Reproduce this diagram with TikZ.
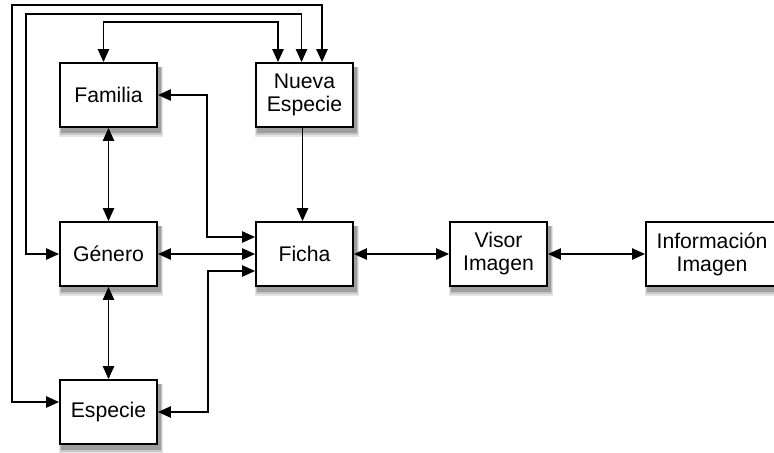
\documentclass[tikz,border=0pt]{standalone}
\usepackage{fontspec}
\setmainfont{Liberation Sans}
\usepackage{tikz}
\usetikzlibrary{calc,arrows.meta,backgrounds}

\begin{document}
\begin{tikzpicture}[x=0.5pt, y=-0.5pt,
    box/.style={draw=black, line width=0.9pt, fill=white, align=center,
      minimum width=48.5pt, minimum height=32pt, inner sep=1pt,
      font=\fontsize{10.6}{11.5}\selectfont},
    link/.style={line width=0.9pt, {Triangle[length=6.5pt,width=5.6pt]}-{Triangle[length=6.5pt,width=5.6pt]}},
    onelink/.style={line width=0.9pt, -{Triangle[length=6.5pt,width=5.6pt]}}
  ]
\useasboundingbox (0,0) rectangle (774,452);
% boxes
\node[box] (fam) at (108.5,95) {Familia};
\node[box] (nue) at (304.5,95) {Nueva\\Especie};
\node[box] (gen) at (108.5,254) {Género};
\node[box] (fic) at (304.5,254) {Ficha};
\node[box] (esp) at (108.5,412) {Especie};
\node[box] (vis) at (498.5,254) {Visor\\Imagen};
\node[box, minimum width=66pt] (inf) at (712,254) {Información\\Imagen};
% soft shadows
\begin{scope}[on background layer]
\foreach \n in {fam,nue,gen,fic,esp,vis,inf}{
    \fill[black!10] ($(\n.south west)+(0,9)$) rectangle ($(\n.north east)+(5,5)$);
    \fill[black!22] ($(\n.south west)+(1,7)$) rectangle ($(\n.north east)+(4,5)$);
    \fill[black!38] ($(\n.south west)+(2,5)$) rectangle ($(\n.north east)+(3,5)$);
}
\end{scope}
% straight links
\draw[link] (fam) -- (gen);
\draw[link] (gen) -- (esp);
\draw[link] (gen) -- (fic);
\draw[link] (fic) -- (vis);
\draw[link] (vis) -- (inf);
\draw[onelink] ([xshift=-1pt]nue.south) -- ([xshift=-1pt]fic.north);
% links to Ficha
\draw[link] (fam.east) -- ++(49,0) |- ($(fic.west)+(0,-17)$);
\draw[link] (esp.east) -- ++(50,0) |- ($(fic.west)+(0,17)$);
% links to Nueva Especie
\draw[link] ($(fam.north)+(-5,0)$) -- ++(0,-40) -| ($(nue.north)+(-26.5,0)$);
\draw[link] (gen.west) -- ++(-33,0) |- ($(nue.north)+(-3,-48)$) -- ($(nue.north)+(-3,0)$);
\draw[link] ($(esp.west)+(0,-10)$) -- ++(-47,0) |- ($(nue.north)+(17.5,-57)$) -- ($(nue.north)+(17.5,0)$);
\end{tikzpicture}
\end{document}
